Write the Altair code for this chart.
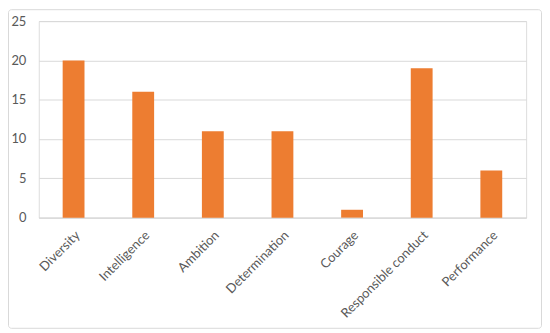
import altair as alt
import pandas as pd

categories = ["Diversity", "Intelligence", "Ambition", "Determination", "Courage", "Responsible conduct", "Performance"]
values = [20, 16, 11, 11, 1, 19, 6]
y_ticks = [0, 5, 10, 15, 20, 25]

df = pd.DataFrame({"category": categories, "value": values})

bars = alt.Chart(df).mark_bar(size=22, color="#ED7D31").encode(
    x=alt.X("category:N", sort=categories, title=None,
            scale=alt.Scale(paddingInner=0, paddingOuter=0),
            axis=alt.Axis(labelAngle=-45, labelFont="Lato", labelFontSize=13,
                          labelColor="#595959", ticks=False, domain=True,
                          domainColor="#D9D9D9", labelPadding=11, grid=False)),
    y=alt.Y("value:Q", title=None,
            scale=alt.Scale(domain=[0, 25], nice=False),
            axis=alt.Axis(values=y_ticks, labelFont="Lato", labelFontSize=13,
                          labelColor="#595959", ticks=False, domain=False,
                          gridColor="#D9D9D9", gridWidth=1, labelPadding=13)),
)

border = alt.Chart(pd.DataFrame({"a": [0]})).mark_rect(
    fill="white", fillOpacity=0, stroke="#D9D9D9", strokeWidth=1, cornerRadius=3
).encode(
    x=alt.value(-30.5), x2=alt.value(506.5), y=alt.value(-11.5), y2=alt.value(309.5)
)

chart = alt.layer(border, bars).properties(
    width=491, height=198,
    autosize=alt.AutoSizeParams(type="none"),
    padding={"left": 31, "top": 12, "right": 16, "bottom": 111},
).configure_view(stroke=None).configure(background="white")

chart.save("out.html", embed_options={"renderer": "svg", "actions": False})
